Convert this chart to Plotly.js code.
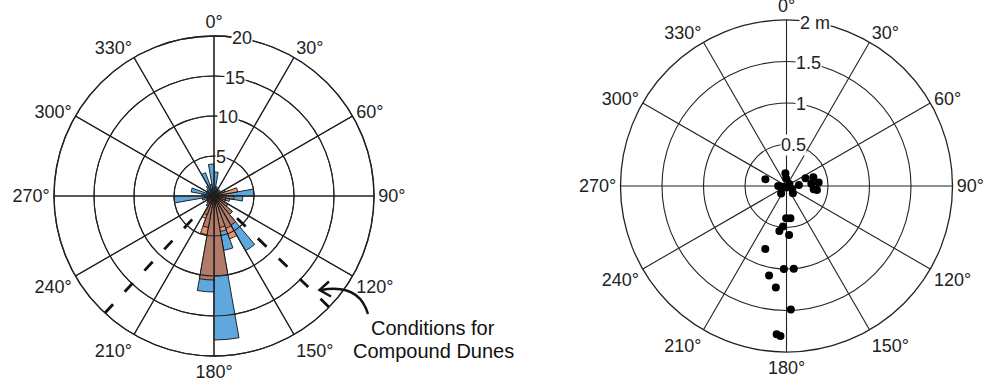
<!DOCTYPE html>
<html><head><meta charset="utf-8">
<script src="https://cdn.plot.ly/plotly-3.0.1.min.js"></script>
<style>html,body{margin:0;padding:0;background:#fff;} #chart{width:987px;height:387px;}</style>
</head><body><div id="chart"></div>
<script>
// ---------- data ----------
const binCenters = [5,15,25,35,45,55,65,75,85,95,105,115,125,135,145,155,165,175,185,195,205,215,225,235,245,255,265,275,285,295,305,315,325,335,345,355];
const blueCounts   = [3.0,1.2,1.0,0.8,1.0,0.8,1.5,2.0,5.0,3.6,2.0,1.5,2.0,3.0,7.9,4.5,6.9,18.0,12.0,4.0,2.0,1.5,1.2,1.0,1.0,1.5,5.0,1.5,2.9,1.0,1.0,1.2,1.5,3.1,1.5,4.0];
const orangeCounts = [0,0,0,0,0,0,0,3.0,0,2.0,0,0,0,0,0,5.7,4.5,0,0,4.9,3.0,0,0,0,0,0,0,0,0,0,0,0,0,0,0,0];
const brownCounts  = [0,0,0,0,0,0,0,0,0,2.5,1.5,1.5,2.0,3.0,4.2,4.3,4.0,10.0,10.5,4.0,2.5,1.5,1.0,0,0,0,0,0,0,0,0,0,0,0,0,0];

const angleTicks = [0,30,60,90,120,150,180,210,240,270,300,330];
const angleTickText = ["0°","30°","60°","90°","120°","150°","180°","210°","240°","270°","300°","330°"];
const countTicks = [5,10,15,20];
const countTickText = ["5","10","15","20"];
const heightTicks = [0.5,1,1.5,2];
const heightTickText = ["0.5","1","1.5","2 m"];

const compoundAngles = [134, 223];
const compoundRange = [4, 20];

const duneTheta  = [355,357,288,270,260,56,120,85,216,139,68,72,84,85,97,97.5,200,180.6,173,185,189,177,198.6,181.8,175,191,186,178,183.8,182.3];
const duneHeight = [0.153,0.09,0.267,0.10,0.045,0.043,0.08,0.15,0.11,0.117,0.247,0.34,0.39,0.30,0.33,0.37,0.02,0.39,0.39,0.49,0.55,0.59,0.80,1.00,1.00,1.10,1.23,1.49,1.79,1.81];

const noteLines = ["Conditions for", "Compound Dunes"];

// ---------- layout geometry ----------
const W = 987, H = 387;
const FONT = "Liberation Sans, Arial, Helvetica, sans-serif";
const leftGeo  = {cx:214, cy:196, R:160, rmax:20};
const rightGeo = {cx:786.5, cy:186, R:166, rmax:2};
function dom(g){ return {x:[(g.cx-g.R)/W,(g.cx+g.R)/W], y:[1-(g.cy+g.R)/H, 1-(g.cy-g.R)/H]}; }
function px(x,y){ return (x/W).toFixed(4)+","+(1-y/H).toFixed(4); }

const BLUE = "#5ea8de", ORANGE = "#eb9470", BROWN = "#b27a69", GRID = "#222";

function barTrace(vals, color){
  const th = [], rr = [];
  binCenters.forEach((t,i)=>{ if(vals[i] > 0){ th.push(t); rr.push(vals[i]); } });
  return {type:"barpolar", subplot:"polar", theta:th, r:rr, width:10,
          marker:{color:color, line:{color:"#111", width:0.9}}, hoverinfo:"skip"};
}

const traces = [
  barTrace(blueCounts, BLUE),
  barTrace(orangeCounts, ORANGE),
  barTrace(brownCounts, BROWN)
];
compoundAngles.forEach(a => traces.push({
  type:"scatterpolar", subplot:"polar", mode:"lines",
  theta:[a,a], r:compoundRange,
  line:{color:"#111", width:2.8, dash:"12px,17px"}, hoverinfo:"skip"
}));
// empty trace for the grid overlay subplot (grid drawn above bars)
traces.push({type:"scatterpolar", subplot:"polar3", mode:"markers", theta:[], r:[], hoverinfo:"skip"});
traces.push({type:"scatterpolar", subplot:"polar2", mode:"markers",
  theta:duneTheta, r:duneHeight, marker:{color:"#000", size:8}, hoverinfo:"skip"});

function angAxis(showLabels){
  return {rotation:90, direction:"clockwise", tickmode:"array", tickvals:angleTicks, ticktext:angleTickText,
    showline:true, linecolor:GRID, linewidth:1.3, gridcolor:GRID, gridwidth:1.1, ticks:"",
    showticklabels:showLabels, tickfont:{family:FONT, size:18, color:"#222"}};
}
function radAxis(range, vals){
  return {range:range, tickmode:"array", tickvals:vals, showticklabels:false, ticks:"",
    showline:false, gridcolor:GRID, gridwidth:1.1};
}

const annotations = [];
function radialLabels(g, vals, texts){
  vals.forEach((v,i)=>{
    const rr = g.R * v / g.rmax, a = 10*Math.PI/180;
    const x = g.cx + rr*Math.sin(a), y = g.cy - rr*Math.cos(a);
    annotations.push({xref:"paper", yref:"paper", x:x/W, y:1-y/H, text:texts[i], showarrow:false,
      xanchor:"center", yanchor:"middle", bgcolor:"#fff", borderpad:0,
      font:{family:FONT, size:18, color:"#222"}});
  });
}
radialLabels(leftGeo, countTicks, countTickText);
radialLabels(rightGeo, heightTicks, heightTickText);
noteLines.forEach((t,i)=>annotations.push({xref:"paper", yref:"paper", x:433/W, y:1-(328+23*i)/H, text:t,
  showarrow:false, xanchor:"center", yanchor:"middle", align:"center",
  font:{family:FONT, size:20, color:"#111"}}));

const shapes = [
  {type:"path", xref:"paper", yref:"paper", path:"M "+px(368,314)+" Q "+px(359,283)+" "+px(321,290),
   line:{color:"#111", width:2.4}},
  {type:"path", xref:"paper", yref:"paper", path:"M "+px(329,281.5)+" L "+px(319.5,290)+" L "+px(331,296.5),
   line:{color:"#111", width:2.4}}
];

const layout = {
  width:W, height:H, margin:{l:0,r:0,t:0,b:0}, showlegend:false,
  paper_bgcolor:"#fff", font:{family:FONT},
  polar:{domain:dom(leftGeo), bgcolor:"#fff", barmode:"overlay",
    angularaxis:angAxis(true), radialaxis:radAxis([0,20], countTicks)},
  polar3:{domain:dom(leftGeo), bgcolor:"rgba(0,0,0,0)",
    angularaxis:angAxis(false), radialaxis:radAxis([0,20], countTicks)},
  polar2:{domain:dom(rightGeo), bgcolor:"#fff",
    angularaxis:angAxis(true), radialaxis:radAxis([0,2], heightTicks)},
  annotations:annotations, shapes:shapes
};
Plotly.newPlot("chart", traces, layout, {staticPlot:true, displayModeBar:false});
</script>
</body></html>
